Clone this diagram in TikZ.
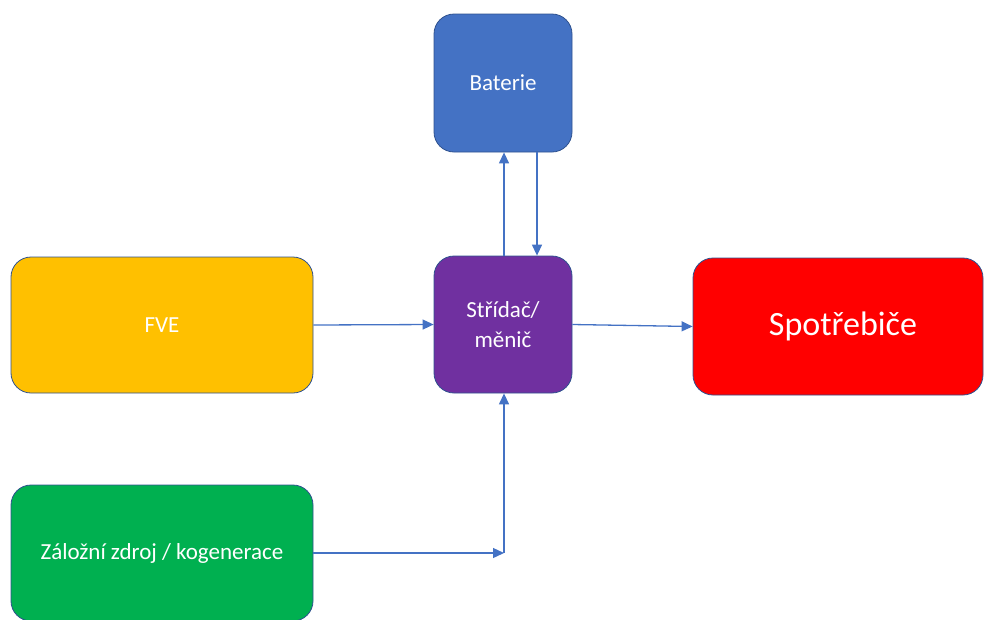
\documentclass[tikz,border=0pt]{standalone}
\usepackage{fontspec}
\setmainfont{Carlito}
\usetikzlibrary{arrows.meta}
\definecolor{cbat}{HTML}{4472C4}
\definecolor{cfve}{HTML}{FFC000}
\definecolor{cmen}{HTML}{7030A0}
\definecolor{cspot}{HTML}{FF0000}
\definecolor{czal}{HTML}{00B050}
\definecolor{cedge}{HTML}{2F528F}
\definecolor{carr}{HTML}{4472C4}
\tikzset{
  blockbox/.style={draw=cedge, line width=0.8pt, rounded corners=20pt, text=white,
    align=center, inner sep=0pt, font=\fontsize{23}{30}\selectfont},
  arr/.style={draw=carr, line width=1.3pt, -{Triangle[length=11pt,width=10pt]}},
}
\begin{document}
\begin{tikzpicture}[x=1pt,y=-1pt]
\useasboundingbox (0,0) rectangle (985,619);
\node[blockbox, fill=cbat, minimum width=138pt, minimum height=138pt] (bat) at (503,83) {Baterie};
\node[blockbox, fill=cfve, minimum width=302pt, minimum height=136pt] (fve) at (162,325) {FVE};
\node[blockbox, fill=cmen, minimum width=138pt, minimum height=137pt] (men) at (503,324.5) {Střídač/\\měnič};
\node[blockbox, fill=cspot, minimum width=290pt, minimum height=137pt, font=\fontsize{34}{40}\selectfont, text width=290pt, align=center] (spot) at (838,326.5) {\hspace*{10pt}Spotřebiče};
\node[blockbox, fill=czal, minimum width=302pt, minimum height=136pt] (zal) at (162,553) {Záložní zdroj / kogenerace};
\coordinate (j) at (504,553);
\draw[arr] ([xshift=1pt]men.north) -- ([xshift=1pt]bat.south);
\draw[arr] ([xshift=34pt]bat.south) -- ([xshift=34pt]men.north);
\draw[arr] (fve.east) -- (men.west);
\draw[arr] (men.east) -- (spot.west);
\draw[arr] (zal.east) -- (j);
\draw[arr] (j) -- (men.south -| j);
\end{tikzpicture}
\end{document}
